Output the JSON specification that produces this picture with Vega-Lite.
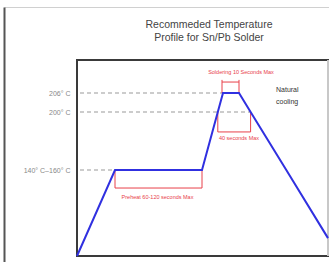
{
  "$schema": "https://vega.github.io/schema/vega-lite/v6.json",
  "width": 340,
  "height": 260,
  "autosize": {"type": "none"},
  "padding": {"left": 4, "top": 7, "right": 0, "bottom": 0},
  "background": "white",
  "config": {"view": {"stroke": null}, "font": "Liberation Sans"},
  "title": {
    "text": ["Recommeded Temperature", "Profile for Sn/Pb Solder"],
    "anchor": "middle",
    "frame": "group",
    "orient": "top",
    "baseline": "top",
    "offset": -36,
    "dx": 35,
    "fontSize": 10.5,
    "fontWeight": "normal",
    "lineHeight": 13,
    "color": "#444",
    "font": "Liberation Sans"
  },
  "datasets": {
    "box": [{"t": 0, "t2": 251, "temp": 25, "temp2": 240}],
    "dashed": [
      {"temp": 206, "t": 3, "t2": 146},
      {"temp": 200, "t": 3, "t2": 173.6},
      {"temp": 150, "t": 3, "t2": 38}
    ],
    "profile": [
      {"t": 0, "temp": 25},
      {"t": 38, "temp": 150},
      {"t": 125, "temp": 150},
      {"t": 140.8, "temp": 200},
      {"t": 146, "temp": 206},
      {"t": 162, "temp": 206},
      {"t": 173.6, "temp": 200},
      {"t": 209.3, "temp": 150},
      {"t": 251, "temp": 51}
    ],
    "brackets": [
      {"t": 145, "t2": 162, "temp": 217.3, "temp2": 217.3},
      {"t": 145, "t2": 145, "temp": 219.5, "temp2": 206},
      {"t": 162, "t2": 162, "temp": 219.5, "temp2": 206},
      {"t": 140.8, "t2": 173.6, "temp": 182.8, "temp2": 182.8},
      {"t": 140.8, "t2": 140.8, "temp": 200, "temp2": 182.8},
      {"t": 173.6, "t2": 173.6, "temp": 200, "temp2": 182.8},
      {"t": 38, "t2": 125, "temp": 123.8, "temp2": 123.8},
      {"t": 38, "t2": 38, "temp": 150, "temp2": 123.8},
      {"t": 125, "t2": 125, "temp": 150, "temp2": 123.8}
    ],
    "redtext": [
      {"label": "Soldering 10 Seconds Max", "t": 164, "temp": 227.6},
      {"label": "40 seconds Max", "t": 162, "temp": 177.6},
      {"label": "Preheat 60-120 seconds Max", "t": 80.5, "temp": 110.8}
    ],
    "note": [{"label": "Natural cooling", "t": 199, "temp": 209}]
  },
  "encoding": {
    "x": {
      "field": "t",
      "type": "quantitative",
      "scale": {"domain": [-73, 267], "nice": false, "zero": false},
      "axis": {
        "orient": "top",
        "domain": true,
        "domainColor": "#d0d0d0",
        "domainWidth": 1,
        "ticks": false,
        "labels": false,
        "grid": false,
        "title": null
      }
    },
    "y": {
      "field": "temp",
      "type": "quantitative",
      "scale": {
        "domain": [9, 25, 150, 200, 206, 240, 295],
        "range": [260, 249, 163, 105, 86, 53, 0],
        "nice": false,
        "zero": false
      },
      "axis": {
        "orient": "left",
        "values": [150, 200, 206],
        "labelExpr": "datum.value == 150 ? '140° C–160° C' : datum.value + '° C'",
        "domain": true,
        "domainColor": "#555",
        "domainWidth": 2,
        "ticks": false,
        "tickSize": 0,
        "labelPadding": -66,
        "labelColor": "#888",
        "labelFontSize": 7,
        "labelFont": "Liberation Sans",
        "grid": false,
        "title": null
      }
    }
  },
  "layer": [
    {
      "data": {"name": "box"},
      "mark": {"type": "rect", "fill": "transparent", "stroke": "#3a3a3a", "strokeWidth": 2},
      "encoding": {"x2": {"field": "t2"}, "y2": {"field": "temp2"}}
    },
    {
      "data": {"name": "box"},
      "mark": {"type": "rule", "color": "#c8c8c8", "strokeWidth": 2},
      "encoding": {"x": {"field": "t2", "type": "quantitative"}, "y2": {"field": "temp2"}}
    },
    {
      "data": {"name": "dashed"},
      "mark": {"type": "rule", "color": "#999", "strokeWidth": 1, "strokeDash": [4, 3]},
      "encoding": {"x2": {"field": "t2"}}
    },
    {
      "data": {"name": "brackets"},
      "mark": {"type": "rule", "color": "#e8404a", "strokeWidth": 1},
      "encoding": {"x2": {"field": "t2"}, "y2": {"field": "temp2"}}
    },
    {
      "data": {"name": "profile"},
      "mark": {"type": "line", "color": "#3030e0", "strokeWidth": 2},
      "encoding": {}
    },
    {
      "data": {"name": "redtext"},
      "mark": {"type": "text", "color": "#e8404a", "fontSize": 5.5, "align": "center", "baseline": "middle"},
      "encoding": {"text": {"field": "label"}}
    },
    {
      "data": {"name": "note"},
      "mark": {"type": "text", "color": "#333", "fontSize": 7, "align": "left", "baseline": "middle", "lineBreak": " ", "lineHeight": 12},
      "encoding": {"text": {"field": "label"}}
    }
  ]
}
